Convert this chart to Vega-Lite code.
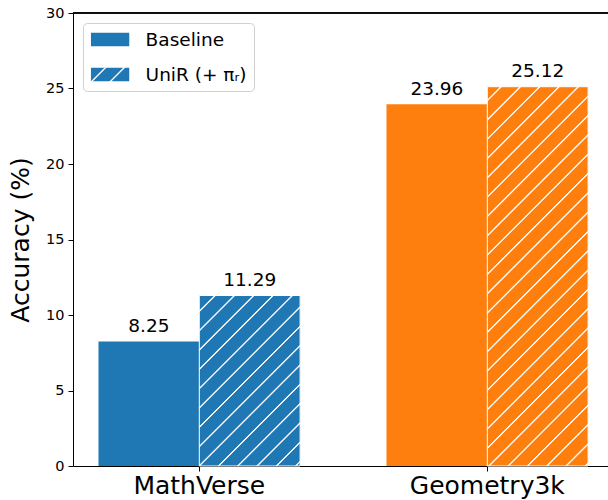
{
  "$schema": "https://vega.github.io/schema/vega-lite/v6.json",
  "width": 535,
  "height": 453,
  "autosize": {"type": "none"},
  "padding": {"left": 73, "top": 13, "right": 0, "bottom": 34},
  "background": "white",
  "config": {"view": {"stroke": null}, "font": "DejaVu Sans"},
  "data": {"values": [
    {"dataset": "MathVerse", "method": "Baseline", "value": 8.25},
    {"dataset": "MathVerse", "method": "UniR (+ πᵣ)", "value": 11.29},
    {"dataset": "Geometry3k", "method": "Baseline", "value": 23.96},
    {"dataset": "Geometry3k", "method": "UniR (+ πᵣ)", "value": 25.12}
  ]},
  "layer": [
    {
      "mark": {"type": "bar"},
      "encoding": {
        "x": {"field": "dataset", "type": "nominal", "sort": ["MathVerse", "Geometry3k"],
          "scale": {"domain": ["MathVerse", "Geometry3k"], "paddingInner": 0.3, "paddingOuter": 0.0788, "align": 0.5617},
          "axis": {"title": null, "labelAngle": 0, "labelFontSize": 25, "labelColor": "black", "labelPadding": 2, "tickSize": 5, "tickColor": "black", "tickWidth": 1, "domainColor": "black", "domainWidth": 1, "grid": false}},
        "xOffset": {"field": "method", "type": "nominal", "scale": {"domain": ["Baseline", "UniR (+ πᵣ)"], "paddingInner": 0, "paddingOuter": 0}},
        "y": {"field": "value", "type": "quantitative", "scale": {"domain": [0, 30], "nice": false},
          "axis": {"title": "Accuracy (%)", "titleFontSize": 25, "titleFontWeight": "normal", "titleColor": "black", "titlePadding": 12, "values": [0, 5, 10, 15, 20, 25, 30], "labelFontSize": 14.5, "labelColor": "black", "labelPadding": 4, "tickSize": 5, "tickColor": "black", "tickWidth": 1, "domainColor": "black", "domainWidth": 1, "grid": false}},
        "color": {"field": "dataset", "type": "nominal", "scale": {"domain": ["MathVerse", "Geometry3k"], "range": ["#1f77b4", "#ff7f0e"]}, "legend": null},
        "opacity": {"field": "method", "type": "nominal", "scale": {"domain": ["Baseline", "UniR (+ πᵣ)"], "range": [1, 1]},
          "legend": {"title": null, "orient": "top-left", "offset": 10,
            "symbolType": "M-2.07,-0.724H2.07V0.724H-2.07Z", "symbolSize": 342, "symbolOffset": 10.6,
            "symbolStrokeWidth": 0, "symbolFillColor": "#1f77b4",
            "labelFontSize": 18.5, "labelColor": "black", "labelOffset": 26, "rowPadding": 16,
            "padding": 7, "cornerRadius": 4, "strokeColor": "#d0d0d0", "fillColor": "rgba(255,255,255,0.8)",
            "encode": {"symbols": {"update": {
              "fill": [
                {"test": "datum.value !== 'Baseline'", "value": {"gradient": "linear", "x1": 0, "y1": 0, "x2": 1.2027, "y2": 0.4208, "stops": [
                  {"offset": 0, "color": "#1f77b4"},
                  {"offset": 0.2497, "color": "#1f77b4"}, {"offset": 0.2705, "color": "#ffffff"}, {"offset": 0.2865, "color": "#ffffff"}, {"offset": 0.3073, "color": "#1f77b4"},
                  {"offset": 0.6114, "color": "#1f77b4"}, {"offset": 0.6322, "color": "#ffffff"}, {"offset": 0.6482, "color": "#ffffff"}, {"offset": 0.6690, "color": "#1f77b4"},
                  {"offset": 1, "color": "#1f77b4"}
                ]}},
                {"value": "#1f77b4"}
              ],
              "opacity": {"value": 1}
            }}}
          }}
      }
    },
    {
      "transform": [{"filter": "datum.dataset === 'MathVerse' && datum.method !== 'Baseline'"}],
      "mark": {"type": "bar", "stroke": "#ffffff", "strokeWidth": 1,
        "fill": {"gradient": "linear", "x1": 0, "y1": 0, "x2": 0.6978, "y2": 1.1789, "stops": [
          {"offset": 0, "color": "#1f77b4"},
          {"offset": 0.0528, "color": "#1f77b4"}, {"offset": 0.0568, "color": "#ffffff"}, {"offset": 0.0598, "color": "#ffffff"}, {"offset": 0.0638, "color": "#1f77b4"},
          {"offset": 0.1240, "color": "#1f77b4"}, {"offset": 0.1280, "color": "#ffffff"}, {"offset": 0.1310, "color": "#ffffff"}, {"offset": 0.1350, "color": "#1f77b4"},
          {"offset": 0.1952, "color": "#1f77b4"}, {"offset": 0.1992, "color": "#ffffff"}, {"offset": 0.2022, "color": "#ffffff"}, {"offset": 0.2062, "color": "#1f77b4"},
          {"offset": 0.2664, "color": "#1f77b4"}, {"offset": 0.2704, "color": "#ffffff"}, {"offset": 0.2734, "color": "#ffffff"}, {"offset": 0.2774, "color": "#1f77b4"},
          {"offset": 0.3375, "color": "#1f77b4"}, {"offset": 0.3415, "color": "#ffffff"}, {"offset": 0.3445, "color": "#ffffff"}, {"offset": 0.3485, "color": "#1f77b4"},
          {"offset": 0.4087, "color": "#1f77b4"}, {"offset": 0.4127, "color": "#ffffff"}, {"offset": 0.4157, "color": "#ffffff"}, {"offset": 0.4197, "color": "#1f77b4"},
          {"offset": 0.4799, "color": "#1f77b4"}, {"offset": 0.4839, "color": "#ffffff"}, {"offset": 0.4869, "color": "#ffffff"}, {"offset": 0.4909, "color": "#1f77b4"},
          {"offset": 0.5511, "color": "#1f77b4"}, {"offset": 0.5551, "color": "#ffffff"}, {"offset": 0.5581, "color": "#ffffff"}, {"offset": 0.5621, "color": "#1f77b4"},
          {"offset": 0.6223, "color": "#1f77b4"}, {"offset": 0.6263, "color": "#ffffff"}, {"offset": 0.6293, "color": "#ffffff"}, {"offset": 0.6333, "color": "#1f77b4"},
          {"offset": 0.6935, "color": "#1f77b4"}, {"offset": 0.6975, "color": "#ffffff"}, {"offset": 0.7005, "color": "#ffffff"}, {"offset": 0.7045, "color": "#1f77b4"},
          {"offset": 0.7647, "color": "#1f77b4"}, {"offset": 0.7687, "color": "#ffffff"}, {"offset": 0.7717, "color": "#ffffff"}, {"offset": 0.7757, "color": "#1f77b4"},
          {"offset": 0.8359, "color": "#1f77b4"}, {"offset": 0.8399, "color": "#ffffff"}, {"offset": 0.8429, "color": "#ffffff"}, {"offset": 0.8469, "color": "#1f77b4"},
          {"offset": 0.9071, "color": "#1f77b4"}, {"offset": 0.9111, "color": "#ffffff"}, {"offset": 0.9141, "color": "#ffffff"}, {"offset": 0.9181, "color": "#1f77b4"},
          {"offset": 0.9783, "color": "#1f77b4"}, {"offset": 0.9823, "color": "#ffffff"}, {"offset": 0.9853, "color": "#ffffff"}, {"offset": 0.9893, "color": "#1f77b4"},
          {"offset": 1, "color": "#1f77b4"}
        ]}},
      "encoding": {
        "x": {"field": "dataset", "type": "nominal"},
        "xOffset": {"field": "method", "type": "nominal"},
        "y": {"field": "value", "type": "quantitative"}
      }
    },
    {
      "transform": [{"filter": "datum.dataset === 'Geometry3k' && datum.method !== 'Baseline'"}],
      "mark": {"type": "bar", "stroke": "#ffffff", "strokeWidth": 1,
        "fill": {"gradient": "linear", "x1": 0, "y1": 0, "x2": 0.3145, "y2": 1.1823, "stops": [
          {"offset": 0, "color": "#ff7f0e"},
          {"offset": 0.0257, "color": "#ff7f0e"}, {"offset": 0.0279, "color": "#ffffff"}, {"offset": 0.0297, "color": "#ffffff"}, {"offset": 0.0319, "color": "#ff7f0e"},
          {"offset": 0.0659, "color": "#ff7f0e"}, {"offset": 0.0681, "color": "#ffffff"}, {"offset": 0.0699, "color": "#ffffff"}, {"offset": 0.0721, "color": "#ff7f0e"},
          {"offset": 0.1061, "color": "#ff7f0e"}, {"offset": 0.1083, "color": "#ffffff"}, {"offset": 0.1101, "color": "#ffffff"}, {"offset": 0.1123, "color": "#ff7f0e"},
          {"offset": 0.1464, "color": "#ff7f0e"}, {"offset": 0.1486, "color": "#ffffff"}, {"offset": 0.1504, "color": "#ffffff"}, {"offset": 0.1526, "color": "#ff7f0e"},
          {"offset": 0.1866, "color": "#ff7f0e"}, {"offset": 0.1888, "color": "#ffffff"}, {"offset": 0.1906, "color": "#ffffff"}, {"offset": 0.1928, "color": "#ff7f0e"},
          {"offset": 0.2268, "color": "#ff7f0e"}, {"offset": 0.2290, "color": "#ffffff"}, {"offset": 0.2308, "color": "#ffffff"}, {"offset": 0.2330, "color": "#ff7f0e"},
          {"offset": 0.2671, "color": "#ff7f0e"}, {"offset": 0.2693, "color": "#ffffff"}, {"offset": 0.2711, "color": "#ffffff"}, {"offset": 0.2733, "color": "#ff7f0e"},
          {"offset": 0.3073, "color": "#ff7f0e"}, {"offset": 0.3095, "color": "#ffffff"}, {"offset": 0.3113, "color": "#ffffff"}, {"offset": 0.3135, "color": "#ff7f0e"},
          {"offset": 0.3475, "color": "#ff7f0e"}, {"offset": 0.3497, "color": "#ffffff"}, {"offset": 0.3515, "color": "#ffffff"}, {"offset": 0.3537, "color": "#ff7f0e"},
          {"offset": 0.3878, "color": "#ff7f0e"}, {"offset": 0.3900, "color": "#ffffff"}, {"offset": 0.3918, "color": "#ffffff"}, {"offset": 0.3940, "color": "#ff7f0e"},
          {"offset": 0.4280, "color": "#ff7f0e"}, {"offset": 0.4302, "color": "#ffffff"}, {"offset": 0.4320, "color": "#ffffff"}, {"offset": 0.4342, "color": "#ff7f0e"},
          {"offset": 0.4682, "color": "#ff7f0e"}, {"offset": 0.4704, "color": "#ffffff"}, {"offset": 0.4722, "color": "#ffffff"}, {"offset": 0.4744, "color": "#ff7f0e"},
          {"offset": 0.5085, "color": "#ff7f0e"}, {"offset": 0.5107, "color": "#ffffff"}, {"offset": 0.5125, "color": "#ffffff"}, {"offset": 0.5147, "color": "#ff7f0e"},
          {"offset": 0.5487, "color": "#ff7f0e"}, {"offset": 0.5509, "color": "#ffffff"}, {"offset": 0.5527, "color": "#ffffff"}, {"offset": 0.5549, "color": "#ff7f0e"},
          {"offset": 0.5889, "color": "#ff7f0e"}, {"offset": 0.5911, "color": "#ffffff"}, {"offset": 0.5929, "color": "#ffffff"}, {"offset": 0.5951, "color": "#ff7f0e"},
          {"offset": 0.6292, "color": "#ff7f0e"}, {"offset": 0.6314, "color": "#ffffff"}, {"offset": 0.6332, "color": "#ffffff"}, {"offset": 0.6354, "color": "#ff7f0e"},
          {"offset": 0.6694, "color": "#ff7f0e"}, {"offset": 0.6716, "color": "#ffffff"}, {"offset": 0.6734, "color": "#ffffff"}, {"offset": 0.6756, "color": "#ff7f0e"},
          {"offset": 0.7096, "color": "#ff7f0e"}, {"offset": 0.7118, "color": "#ffffff"}, {"offset": 0.7136, "color": "#ffffff"}, {"offset": 0.7158, "color": "#ff7f0e"},
          {"offset": 0.7499, "color": "#ff7f0e"}, {"offset": 0.7521, "color": "#ffffff"}, {"offset": 0.7539, "color": "#ffffff"}, {"offset": 0.7561, "color": "#ff7f0e"},
          {"offset": 0.7901, "color": "#ff7f0e"}, {"offset": 0.7923, "color": "#ffffff"}, {"offset": 0.7941, "color": "#ffffff"}, {"offset": 0.7963, "color": "#ff7f0e"},
          {"offset": 0.8303, "color": "#ff7f0e"}, {"offset": 0.8325, "color": "#ffffff"}, {"offset": 0.8343, "color": "#ffffff"}, {"offset": 0.8365, "color": "#ff7f0e"},
          {"offset": 0.8706, "color": "#ff7f0e"}, {"offset": 0.8728, "color": "#ffffff"}, {"offset": 0.8746, "color": "#ffffff"}, {"offset": 0.8768, "color": "#ff7f0e"},
          {"offset": 0.9108, "color": "#ff7f0e"}, {"offset": 0.9130, "color": "#ffffff"}, {"offset": 0.9148, "color": "#ffffff"}, {"offset": 0.9170, "color": "#ff7f0e"},
          {"offset": 0.9510, "color": "#ff7f0e"}, {"offset": 0.9532, "color": "#ffffff"}, {"offset": 0.9550, "color": "#ffffff"}, {"offset": 0.9572, "color": "#ff7f0e"},
          {"offset": 0.9913, "color": "#ff7f0e"}, {"offset": 0.9935, "color": "#ffffff"}, {"offset": 0.9953, "color": "#ffffff"}, {"offset": 0.9975, "color": "#ff7f0e"},
          {"offset": 1, "color": "#ff7f0e"}
        ]}},
      "encoding": {
        "x": {"field": "dataset", "type": "nominal"},
        "xOffset": {"field": "method", "type": "nominal"},
        "y": {"field": "value", "type": "quantitative"}
      }
    },
    {
      "mark": {"type": "text", "baseline": "alphabetic", "dy": -9.5, "fontSize": 18.5, "color": "black"},
      "encoding": {
        "x": {"field": "dataset", "type": "nominal"},
        "xOffset": {"field": "method", "type": "nominal"},
        "y": {"field": "value", "type": "quantitative"},
        "text": {"field": "value", "type": "quantitative", "format": ".2f"}
      }
    },
    {
      "mark": {"type": "rule", "color": "black", "strokeWidth": 1},
      "encoding": {"y": {"datum": 30}}
    }
  ]
}
